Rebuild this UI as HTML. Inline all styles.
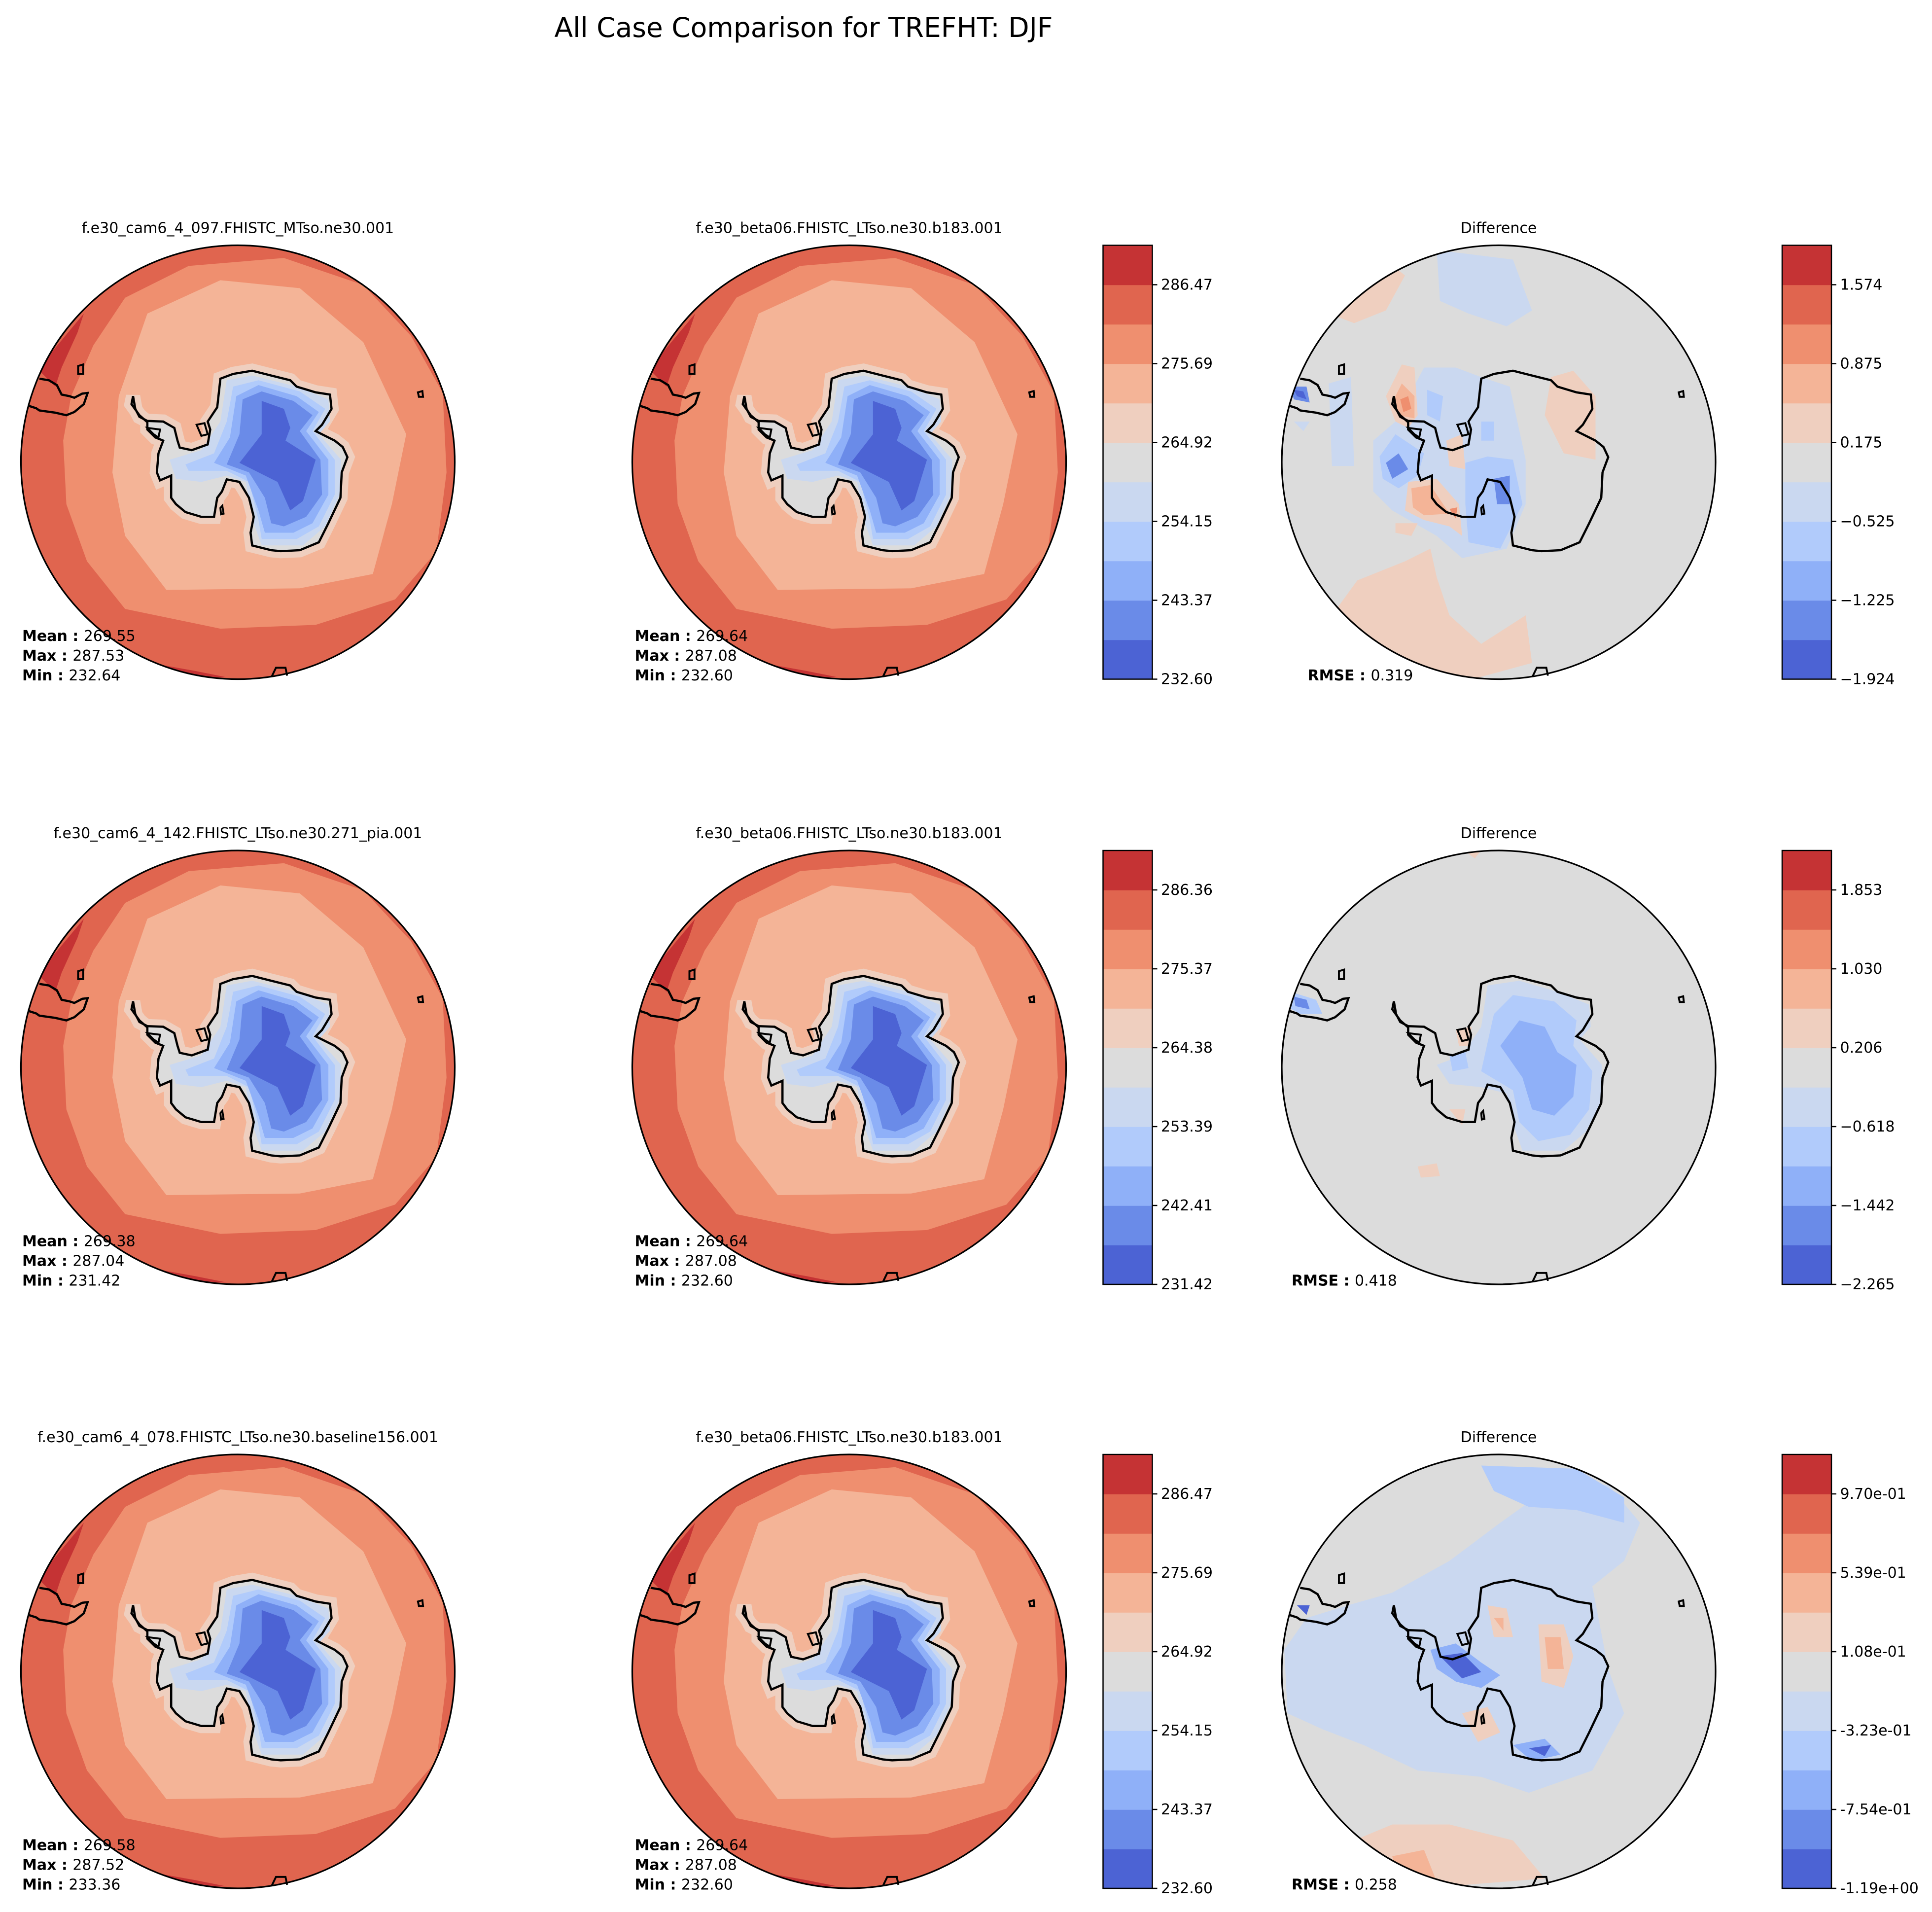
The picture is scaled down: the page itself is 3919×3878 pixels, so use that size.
<!DOCTYPE html>
<html><head><meta charset="utf-8"><style>
html,body{margin:0;padding:0;background:#fff;}
svg{display:block;font-family:"DejaVu Sans","Liberation Sans",sans-serif;}
</style></head><body>
<svg id="fig" xmlns="http://www.w3.org/2000/svg" width="3919" height="3878" viewBox="0 0 1567.6 1551.2">
<defs>
<path id="coast" d="M425,560 L432,600 L445,625 L470,638 L520,640 L555,660 L565,700 L572,722 L610,730 L660,712 L668,665 L660,640 L690,595 L700,505 L740,490 L800,480 L860,495 L920,510 L940,530 L1000,548 L1045,555 L1050,600 L1020,650 L1000,670 L1060,700 L1085,720 L1100,752 L1082,800 L1078,880 L1040,960 L1010,1020 L950,1045 L890,1048 L860,1045 L800,1030 L795,990 L805,940 L790,880 L760,830 L720,822 L705,860 L690,880 L680,940 L640,940 L590,925 L560,900 L545,880 L545,810 L510,825 L500,800 L505,740 L520,700 L495,690 L470,665 L470,642 L445,620 L420,585 Z"/>
<path id="samer" d="M95,590 L120,598 L130,605 L180,612 L215,620 L240,610 L270,585 L282,550 L265,552 L240,565 L225,560 L200,555 L185,525 L160,510 L130,505"/>
<clipPath id="cc"><circle cx="755" cy="768" r="683"/></clipPath>
<g id="absmap">
<g clip-path="url(#cc)">
<circle cx="755" cy="768" r="690" fill="#e0654f"/>
<path d="M130,480 L170,420 L270,300 L250,360 L200,470 L180,530 Z" fill="#c53334"/>
<path d="M480,1400 L620,1425 L720,1445 L500,1445 Z" fill="#c53334"/>
<path d="M205,700 L230,560 L300,400 L400,250 L600,150 L900,125 L1150,210 L1300,370 L1400,550 L1412,800 L1380,1050 L1250,1200 L1000,1280 L700,1292 L400,1230 L280,1080 L215,900 Z" fill="#ef8f6f"/>
<path d="M470,300 L700,195 L950,220 L1150,390 L1285,680 L1240,900 L1180,1120 L950,1165 L530,1170 L400,1000 L360,800 L380,560 Z" fill="#f4b497"/>
<use href="#coast" fill="#efcfbf" stroke="#efcfbf" stroke-width="45"/>
<use href="#coast" fill="#dcdcdc"/>
<path d="M540,760 L640,730 L700,640 L720,510 L800,495 L940,530 L1040,570 L1045,640 L1010,680 L1080,760 L1075,870 L1030,970 L960,1030 L830,1030 L805,960 L780,830 L720,810 L640,830 L560,820 Z" fill="#cad8f0"/>
<path d="M590,775 L680,740 L720,640 L740,530 L820,510 L950,545 L1030,600 L990,670 L1060,760 L1060,870 L1010,970 L940,1010 L830,1010 L820,950 L790,830 L720,795 L600,795 Z" fill="#b1cbfb"/>
<path d="M680,770 L730,690 L750,560 L820,525 L940,560 L1010,610 L970,670 L1040,760 L1040,870 L990,960 L930,990 L840,990 L820,920 L780,810 Z" fill="#8fb0f8"/>
<path d="M720,775 L760,680 L770,570 L830,545 L930,575 L990,620 L950,670 L1015,760 L1020,870 L970,940 L900,970 L860,960 L840,880 L790,800 Z" fill="#6a8be8"/>
<path d="M830,575 L900,600 L920,660 L905,700 L1000,760 L960,890 L920,920 L880,830 L760,770 L830,680 Z" fill="#4c63d4"/>
</g>
</g>
<g id="coasts">
<use href="#coast" fill="none" stroke="#000" stroke-width="7"/>
<use href="#samer" fill="none" stroke="#000" stroke-width="7"/>
<path d="M252,465 L268,460 L268,490 L252,490 Z M1322,548 L1336,544 L1338,562 L1325,562 Z M862,1442 L875,1415 L905,1415 L910,1440" fill="none" stroke="#000" stroke-width="6"/>
<path d="M625,650 L650,645 L660,680 L640,685 Z M470,660 L510,665 L505,690 L490,680 Z M700,912 L706,905 L710,930 L702,932 Z" fill="none" stroke="#000" stroke-width="6"/>
</g>
<g id="diff1">
<g clip-path="url(#cc)">
<circle cx="755" cy="768" r="690" fill="#dcdcdc"/>
<path d="M200,260 L400,130 L460,180 L400,290 L300,330 L220,300 Z" fill="#efcfbf"/>
<path d="M560,100 L800,130 L860,290 L780,340 L660,300 L570,260 Z" fill="#cad8f0"/>
<path d="M920,500 L990,480 L1060,560 L1060,760 L960,740 L900,620 Z" fill="#efcfbf"/>
<path d="M230,1250 L310,1140 L460,1080 L540,1040 L560,1130 L600,1250 L700,1340 L840,1250 L860,1400 L640,1460 L380,1420 Z" fill="#efcfbf"/>
<path d="M220,520 L290,500 L300,780 L230,780 Z M110,640 L160,640 L140,670 Z" fill="#cad8f0"/>
<path d="M360,700 L430,640 L520,470 L620,470 L700,500 L790,530 L840,760 L840,900 L780,1040 L640,1070 L560,1000 L420,920 L360,860 Z" fill="#cad8f0"/>
<path d="M380,750 L430,680 L520,740 L500,810 L440,850 L390,820 Z M530,540 L580,560 L570,640 L530,620 Z M650,770 L720,750 L800,760 L830,900 L760,1040 L660,1020 L650,900 Z M700,640 L740,640 L740,700 L700,700 Z" fill="#b1cbfb"/>
<path d="M400,770 L440,740 L470,790 L420,820 Z M740,820 L790,810 L790,900 L750,900 Z M100,530 L150,530 L160,580 L110,570 Z" fill="#6a8be8"/>
<path d="M110,540 L140,545 L150,570 L120,560 Z" fill="#4c63d4"/>
<path d="M400,560 L450,460 L490,470 L500,620 L470,660 L430,640 Z M470,830 L560,820 L630,900 L640,1000 L600,970 L520,950 L460,920 Z M590,700 L640,680 L650,790 L600,780 Z M430,960 L500,960 L480,1000 L430,990 Z" fill="#efcfbf"/>
<path d="M420,580 L450,520 L490,560 L490,630 L440,620 Z M480,850 L540,840 L600,930 L520,935 L485,910 Z" fill="#f4b497"/>
<path d="M445,570 L470,560 L480,600 L455,610 Z M600,915 L625,910 L620,945 Z" fill="#ef8f6f"/>
</g>
</g>
<g id="diff2">
<g clip-path="url(#cc)">
<circle cx="755" cy="768" r="690" fill="#dcdcdc"/>
<path d="M500,1080 L560,1070 L570,1110 L510,1115 Z M640,80 L700,85 L680,110 Z" fill="#efcfbf"/>
<path d="M560,760 L640,730 L700,640 L720,510 L820,495 L940,530 L1040,570 L1045,640 L1010,680 L1080,760 L1075,880 L1030,970 L960,1030 L830,1030 L805,960 L780,850 L700,830 L600,820 Z" fill="#cad8f0"/>
<path d="M700,780 L740,600 L800,540 L930,560 L1000,620 L990,700 L1050,780 L1040,900 L980,980 L880,1000 L820,940 L800,840 Z" fill="#b1cbfb"/>
<path d="M760,700 L820,620 L900,640 L940,720 L1000,760 L990,860 L930,920 L860,900 L830,800 Z" fill="#8fb0f8"/>
<path d="M100,530 L180,555 L200,600 L130,600 L95,580 Z M600,730 L650,720 L660,770 L610,780 Z" fill="#b1cbfb"/>
<path d="M110,545 L150,555 L160,585 L115,575 Z" fill="#6a8be8"/>
<path d="M620,650 L670,640 L660,700 L630,700 Z M600,900 L650,900 L640,950 Z" fill="#efcfbf"/>
</g>
</g>
<g id="diff3">
<g clip-path="url(#cc)">
<circle cx="755" cy="768" r="690" fill="#dcdcdc"/>
<path d="M80,700 L150,600 L280,560 L420,520 L600,420 L760,300 L900,200 L1100,180 L1200,300 L1150,420 L1050,500 L1100,760 L1150,900 L1050,1080 L850,1150 L700,1100 L500,1080 L330,1000 L200,950 L90,900 Z" fill="#cad8f0"/>
<path d="M700,120 L1000,130 L1150,220 L1150,300 L1000,260 L850,250 L740,200 Z" fill="#b1cbfb"/>
<path d="M540,700 L620,680 L700,740 L760,780 L700,820 L620,800 L560,760 Z M800,1000 L900,980 L950,1030 L860,1050 Z" fill="#8fb0f8"/>
<path d="M570,720 L640,710 L700,770 L640,790 Z M850,1010 L920,1000 L900,1035 Z M120,560 L160,560 L150,590 Z" fill="#4c63d4"/>
<path d="M720,560 L780,570 L800,660 L740,660 Z M880,620 L960,620 L990,720 L960,820 L890,800 Z M640,900 L720,880 L760,960 L690,990 Z" fill="#efcfbf"/>
<path d="M900,660 L950,660 L960,760 L910,760 Z M740,600 L770,600 L770,640 Z" fill="#f4b497"/>
<path d="M300,1300 L420,1250 L600,1250 L800,1300 L900,1420 L400,1460 Z" fill="#efcfbf"/>
<path d="M420,1350 L520,1330 L560,1430 L440,1440 Z" fill="#f4b497"/>
</g>
</g>
</defs>
<text x="652" y="30" font-size="22" text-anchor="middle">All Case Comparison for TREFHT: DJF</text>
<g id="panels"></g>
</svg>
<script>
const rowTitles = ["f.e30_cam6_4_097.FHISTC_MTso.ne30.001","f.e30_cam6_4_142.FHISTC_LTso.ne30.271_pia.001","f.e30_cam6_4_078.FHISTC_LTso.ne30.baseline156.001"];
const refTitle = "f.e30_beta06.FHISTC_LTso.ne30.b183.001";
const testMean = ["269.55","269.38","269.58"];
const testMax = ["287.53","287.04","287.52"];
const testMin = ["232.64","231.42","233.36"];
const refMean = ["269.64","269.64","269.64"];
const refMax = ["287.08","287.08","287.08"];
const refMin = ["232.60","232.60","232.60"];
const rmse = ["0.319","0.418","0.258"];
const absTicks = [["232.60","243.37","254.15","264.92","275.69","286.47"],["231.42","242.41","253.39","264.38","275.37","286.36"],["232.60","243.37","254.15","264.92","275.69","286.47"]];
const diffTicks = [["\u22121.924","\u22121.225","\u22120.525","0.175","0.875","1.574"],["\u22122.265","\u22121.442","\u22120.618","0.206","1.030","1.853"],["-1.19e+00","-7.54e-01","-3.23e-01","1.08e-01","5.39e-01","9.70e-01"]];
const palette = ["#4c63d4","#6a8be8","#8fb0f8","#b1cbfb","#cad8f0","#dcdcdc","#efcfbf","#f4b497","#ef8f6f","#e0654f","#c53334"];
const NS="http://www.w3.org/2000/svg";
const root=document.getElementById('panels');
function mk(tag,attrs,parent){const e=document.createElementNS(NS,tag);for(const k in attrs)e.setAttribute(k,attrs[k]);(parent||root).appendChild(e);return e;}
const colX=[193,689,1216], rowY=[375,866,1356], R=176, sc=R/683;
const fs=12;
function mapPanel(cx,cy,sym,title,name){
  const g=mk('g',{transform:`translate(${cx},${cy}) scale(${sc}) translate(-755,-768)`});
  
  
  mk('use',{href:'#'+sym},g);
  mk('use',{href:'#coasts'},g);
  const c=mk('circle',{cx:cx,cy:cy,r:R,fill:'none',stroke:'#000','stroke-width':1.3});
  
  
  const t=mk('text',{x:cx,y:cy-R-10,'font-size':fs,'text-anchor':'middle'});
  t.textContent=title;
  
  
}
function stats(x,y0,labels,vals,name){
  labels.forEach((l,i)=>{
    const t=mk('text',{x:x,y:y0+i*16,'font-size':fs});
    const b=mk('tspan',{'font-weight':'bold'},t);b.textContent=l+' : ';
    const v=mk('tspan',{},t);v.textContent=' '+vals[i];
    
    
  });
}
function colorbar(x,yTop,ticks,name){
  const h=352,w=40,n=palette.length,bh=h/n;
  const g=mk('g',{});
  
  
  palette.forEach((c,i)=>{mk('rect',{x:x,y:yTop+h-(i+1)*bh,width:w,height:bh+0.3,fill:c},g);});
  mk('rect',{x:x,y:yTop,width:w,height:h,fill:'none',stroke:'#000','stroke-width':1},g);
  ticks.forEach((lab,i)=>{
    const y=yTop+h-i*2*bh;
    mk('line',{x1:x+w,x2:x+w+4,y1:y,y2:y,stroke:'#000','stroke-width':1},g);
    const t=mk('text',{x:x+w+7,y:y+4,'font-size':fs},g);t.textContent=lab;
    
    
  });
}
for(let r=0;r<3;r++){
  const cy=rowY[r];
  mapPanel(colX[0],cy,'absmap',rowTitles[r],'test-map-row'+(r+1));
  mapPanel(colX[1],cy,'absmap',refTitle,'ref-map-row'+(r+1));
  mapPanel(colX[2],cy,'diff'+(r+1),'Difference','diff-map-row'+(r+1));
  stats(18,cy+145,['Mean','Max','Min'],[testMean[r],testMax[r],testMin[r]],'test-stats-row'+(r+1));
  stats(515,cy+145,['Mean','Max','Min'],[refMean[r],refMax[r],refMin[r]],'ref-stats-row'+(r+1));
  stats(r==0?1061:1048,cy+177,['RMSE'],[rmse[r]],'diff-stats-row'+(r+1));
  colorbar(895,cy-176,absTicks[r],'abs-colorbar-row'+(r+1));
  colorbar(1446,cy-176,diffTicks[r],'diff-colorbar-row'+(r+1));
}
</script>
</body></html>
